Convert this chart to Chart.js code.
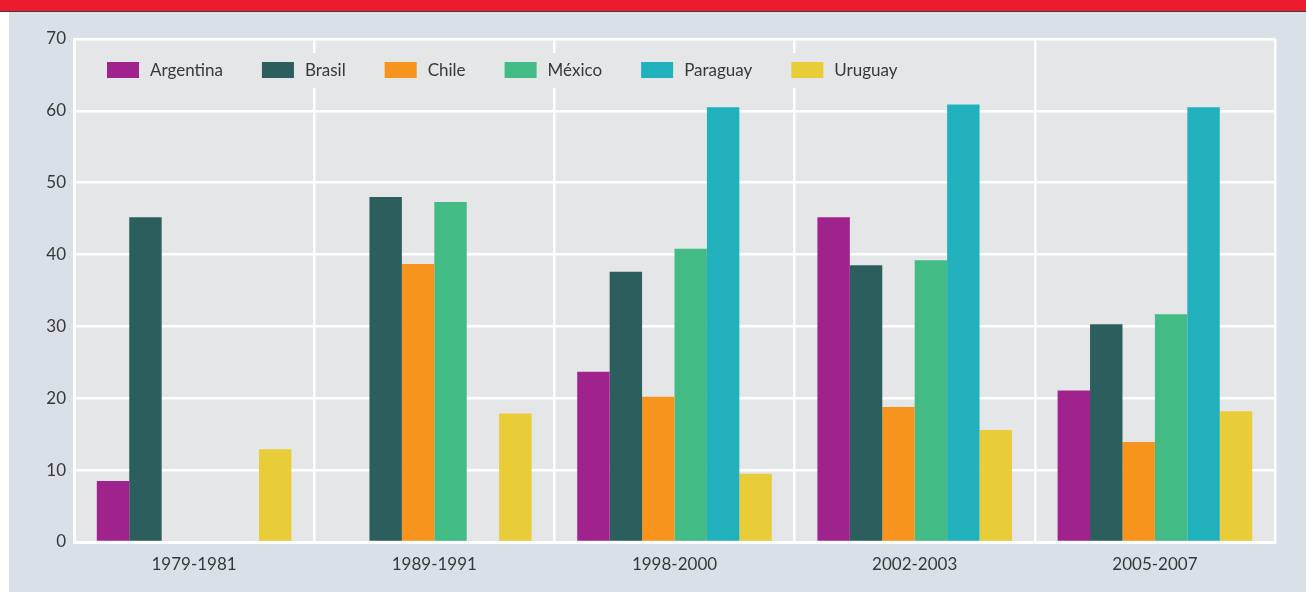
<!DOCTYPE html>
<html>
<head>
<meta charset="utf-8">
<script src="https://cdn.jsdelivr.net/npm/chart.js@4"></script>
<style>
  html, body { margin: 0; padding: 0; background: #ffffff; width: 1306px; height: 592px; overflow: hidden; }
  #topbar { position: absolute; left: 0; top: 0; width: 1306px; height: 11px; background: #ed1b2f; border-bottom: 1px solid #4a3434; }
  #panel { position: absolute; left: 9px; top: 12px; width: 1297px; height: 580px; background: #d9e0e7; }
  #wrap { position: absolute; left: 0; top: 0; width: 1306px; height: 592px; }
</style>
</head>
<body>
<div id="topbar"></div>
<div id="panel"></div>
<div id="wrap"><canvas id="c" width="1306" height="592"></canvas></div>
<script>
const categories = ["1979-1981", "1989-1991", "1998-2000", "2002-2003", "2005-2007"];
const seriesNames = ["Argentina", "Brasil", "Chile", "México", "Paraguay", "Uruguay"];
const argentina = [8.5, null, 23.7, 45.2, 21.1];
const brasil    = [45.2, 48.0, 37.6, 38.5, 30.3];
const chile     = [null, 38.7, 20.2, 18.8, 13.9];
const mexico    = [null, 47.3, 40.8, 39.2, 31.7];
const paraguay  = [null, null, 60.5, 60.9, 60.5];
const uruguay   = [12.9, 17.9, 9.5, 15.6, 18.2];
const yTicks = [0, 10, 20, 30, 40, 50, 60, 70];

const colors = ["#a0228c", "#2b5e5c", "#f7941e", "#43bb85", "#21b1bd", "#e8cc38"];
const seriesValues = [argentina, brasil, chile, mexico, paraguay, uruguay];
const FONT = "Lato, 'Open Sans', sans-serif";
const TEXT = "#383838";
const PLOT_BG = "#e5e6e8";

const plotBg = {
  id: 'plotBg',
  beforeDraw(chart) {
    const a = chart.chartArea, ctx = chart.ctx;
    ctx.save();
    ctx.fillStyle = PLOT_BG;
    ctx.fillRect(a.left, a.top, a.right - a.left, a.bottom - a.top);
    ctx.restore();
  }
};

const innerLegend = {
  id: 'innerLegend',
  beforeDatasetsDraw(chart) {
    const a = chart.chartArea, ctx = chart.ctx;
    ctx.save();
    ctx.font = "17px " + FONT;
    const startX = a.left + 33;
    const cy = a.top + 31;
    const boxW = 32, boxH = 16, gapText = 11, gapItem = 39;
    // compute extent
    let x = startX;
    const items = chart.data.datasets.map(ds => {
      const w = ctx.measureText(ds.label).width;
      const it = { x, label: ds.label, color: ds.backgroundColor, w };
      x += boxW + gapText + w + gapItem;
      return it;
    });
    const endX = x + 40;
    ctx.fillStyle = PLOT_BG;
    ctx.fillRect(a.left + 3, cy - 17, endX - a.left - 3, 35);
    items.forEach(it => {
      ctx.fillStyle = it.color;
      ctx.fillRect(it.x, cy - boxH / 2, boxW, boxH);
      ctx.fillStyle = TEXT;
      ctx.textBaseline = 'middle';
      ctx.textAlign = 'left';
      ctx.fillText(it.label, it.x + boxW + gapText, cy + 1);
    });
    ctx.restore();
  }
};

new Chart(document.getElementById('c'), {
  type: 'bar',
  data: {
    labels: categories,
    datasets: seriesNames.map((n, i) => ({
      label: n,
      data: seriesValues[i],
      backgroundColor: colors[i],
      borderWidth: 0,
      categoryPercentage: 0.81,
      barPercentage: 1.0
    }))
  },
  options: {
    responsive: false,
    animation: false,
    devicePixelRatio: 1,
    layout: { padding: { left: 0, top: 39, right: 31, bottom: 0 } },
    plugins: { legend: { display: false }, tooltip: { enabled: false } },
    scales: {
      x: {
        grid: { color: '#ffffff', lineWidth: 2.5, drawTicks: false, offset: true },
        border: { display: true, color: '#ffffff', width: 3 },
        ticks: { color: TEXT, font: { family: FONT, size: 17 }, padding: 12 },
        afterFit(s) { s.height = 50; }
      },
      y: {
        min: 0, max: 70,
        afterBuildTicks(s) { s.ticks = yTicks.map(v => ({ value: v })); },
        grid: { color: '#ffffff', lineWidth: 2.5, drawTicks: false },
        border: { display: true, color: '#ffffff', width: 3 },
        ticks: { color: TEXT, font: { family: FONT, size: 17 }, padding: 8 },
        afterFit(s) { s.width = 74; }
      }
    }
  },
  plugins: [plotBg, innerLegend]
});
</script>
</body>
</html>
